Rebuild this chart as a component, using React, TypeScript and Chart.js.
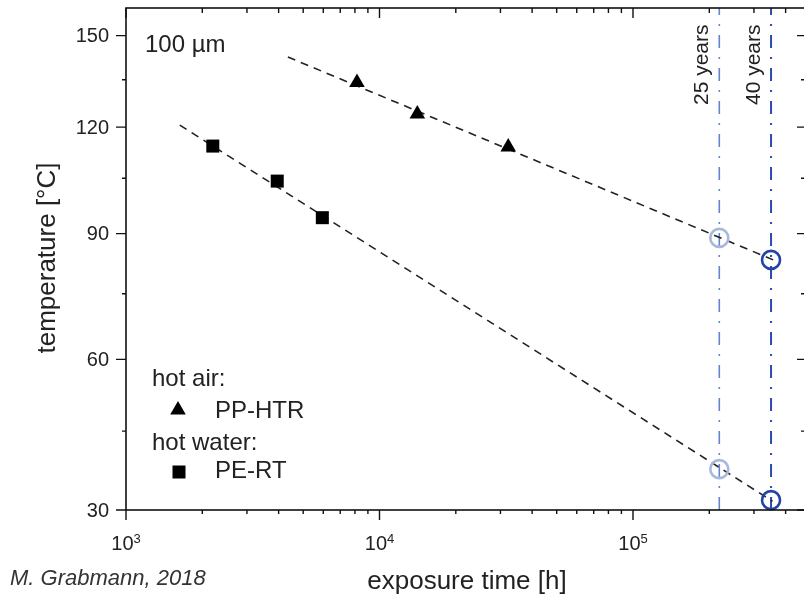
import React, { useEffect, useRef } from "react";
import { Chart, registerables } from "chart.js";

Chart.register(...registerables);

// ---------- data (temperatures in °C, exposure time in hours) ----------
const ppHtrHours = [8150, 14100, 32200];
const ppHtrTemps = [134.1, 124.0, 114.0];
const peRtHours = [2200, 3950, 5950];
const peRtTemps = [114.3, 104.2, 94.2];

const ppFitHours = [4350, 370000];
const ppFitTemps = [142.6, 82.9];
const peFitHours = [1630, 355000];
const peFitTemps = [120.6, 31.6];

const lifetimeLabels = ["25 years", "40 years"];
const lifetimeHours = [219000, 350400];
const ppLifetimeTemps = [88.9, 83.3];
const peLifetimeTemps = [37.6, 31.8];
const lifetimeLineColors = ["#6683cf", "#2a4bb0"];
const lifetimeCircleColors = ["#a9b8dd", "#2542a8"];

const yTickTemps = [30, 60, 90, 120, 150];
const yMinorTemps = [45, 75, 105, 135];
const xTickExponents = [3, 4, 5];
const tempRange = [30, 160];
const timeRange = [1000, 477000];

const legendGroups = ["hot air:", "hot water:"];
const legendNames = ["PP-HTR", "PE-RT"];
const thicknessLabel = "100 µm";
const xTitle = "exposure time [h]";
const yTitle = "temperature [°C]";
const credit = "M. Grabmann, 2018";

// Arrhenius axis: linear in inverse absolute temperature
const toY = (t: number) => -1000 / (t + 273.15);

const FONT = "'Liberation Sans', Arial, Helvetica, sans-serif";
const INK = "#222";

const decorPlugin = {
  id: "decor",
  afterDraw(chart: any) {
    const { ctx, chartArea: a, scales } = chart;
    const xs = scales.x;
    const ys = scales.y;
    ctx.save();

    // frame
    ctx.strokeStyle = "#111";
    ctx.lineWidth = 1.6;
    ctx.strokeRect(a.left, a.top, a.right - a.left, a.bottom - a.top);

    // y ticks
    ctx.lineWidth = 1.4;
    ctx.beginPath();
    yTickTemps.forEach((t) => {
      const py = ys.getPixelForValue(toY(t));
      ctx.moveTo(a.left - 10, py);
      ctx.lineTo(a.left, py);
      ctx.moveTo(a.right - 8, py);
      ctx.lineTo(a.right, py);
    });
    yMinorTemps.forEach((t) => {
      const py = ys.getPixelForValue(toY(t));
      ctx.moveTo(a.left - 4, py);
      ctx.lineTo(a.left, py);
      ctx.moveTo(a.right - 4, py);
      ctx.lineTo(a.right, py);
    });
    // x ticks
    xTickExponents.forEach((e) => {
      for (let m = 1; m <= 9; m++) {
        const v = m * Math.pow(10, e);
        if (v < timeRange[0] || v > timeRange[1]) continue;
        const px = xs.getPixelForValue(v);
        const major = m === 1;
        ctx.moveTo(px, a.bottom);
        ctx.lineTo(px, a.bottom + (major ? 10 : 4));
        ctx.moveTo(px, a.top);
        ctx.lineTo(px, a.top + (major ? 10 : 5));
      }
    });
    ctx.stroke();

    // y tick labels
    ctx.fillStyle = INK;
    ctx.font = `20px ${FONT}`;
    ctx.textAlign = "right";
    ctx.textBaseline = "middle";
    yTickTemps.forEach((t) => {
      const py = ys.getPixelForValue(toY(t));
      ctx.fillText(String(t), a.left - 17, py + 1);
    });

    // x tick labels 10^n
    ctx.textBaseline = "alphabetic";
    ctx.textAlign = "left";
    xTickExponents.forEach((e) => {
      const px = xs.getPixelForValue(Math.pow(10, e));
      ctx.font = `20px ${FONT}`;
      const w10 = ctx.measureText("10").width;
      ctx.font = `13px ${FONT}`;
      const ws = ctx.measureText(String(e)).width;
      const x0 = px - (w10 + ws) / 2;
      ctx.font = `20px ${FONT}`;
      ctx.fillText("10", x0, a.bottom + 40);
      ctx.font = `13px ${FONT}`;
      ctx.fillText(String(e), x0 + w10, a.bottom + 33);
    });

    // axis titles
    ctx.font = `26px ${FONT}`;
    ctx.textAlign = "center";
    ctx.fillText(xTitle, 467, 589);
    ctx.save();
    ctx.translate(55, (a.top + a.bottom) / 2 - 1);
    ctx.rotate(-Math.PI / 2);
    ctx.fillText(yTitle, 0, 0);
    ctx.restore();

    // credit
    ctx.textAlign = "left";
    ctx.font = `italic 22px ${FONT}`;
    ctx.fillStyle = "#333";
    ctx.fillText(credit, 10, 585);

    // thickness label
    ctx.fillStyle = INK;
    ctx.font = `24px ${FONT}`;
    ctx.fillText(thicknessLabel, a.left + 19, a.top + 44);

    // lifetime labels
    ctx.font = `21px ${FONT}`;
    lifetimeHours.forEach((h, i) => {
      const px = xs.getPixelForValue(h);
      ctx.save();
      ctx.translate(px - 11, a.top + 97);
      ctx.rotate(-Math.PI / 2);
      ctx.textAlign = "left";
      ctx.fillText(lifetimeLabels[i], 0, 0);
      ctx.restore();
    });

    // legend
    ctx.font = `24px ${FONT}`;
    ctx.textAlign = "left";
    ctx.fillText(legendGroups[0], 152, 386);
    ctx.fillText(legendNames[0], 215, 418);
    ctx.fillText(legendGroups[1], 152, 450);
    ctx.fillText(legendNames[1], 215, 478);
    // triangle marker
    const r = 9;
    const tx = 178, ty = 410;
    ctx.beginPath();
    ctx.moveTo(tx, ty - r);
    ctx.lineTo(tx + r * Math.sin((2 * Math.PI) / 3), ty + r / 2);
    ctx.lineTo(tx - r * Math.sin((2 * Math.PI) / 3), ty + r / 2);
    ctx.closePath();
    ctx.fillStyle = "#000";
    ctx.fill();
    // square marker
    ctx.fillRect(179 - 6.5, 472 - 6.5, 13, 13);

    ctx.restore();
  },
};

export default function App() {
  const ref = useRef<HTMLCanvasElement | null>(null);

  useEffect(() => {
    if (!ref.current) return;
    const pts = (xsArr: number[], tsArr: number[]) =>
      xsArr.map((x, i) => ({ x, y: toY(tsArr[i]) }));

    const verticals = lifetimeHours.map((h, i) => ({
      type: "scatter" as const,
      data: [
        { x: h, y: toY(tempRange[0]) },
        { x: h, y: toY(tempRange[1]) },
      ],
      showLine: true,
      borderColor: lifetimeLineColors[i],
      borderWidth: i === 0 ? 1.6 : 2,
      borderDash: [13, 9, 2, 9],
      pointRadius: 0,
      order: 4,
    }));

    const circles = lifetimeHours.map((h, i) => ({
      type: "scatter" as const,
      data: [
        { x: h, y: toY(ppLifetimeTemps[i]) },
        { x: h, y: toY(peLifetimeTemps[i]) },
      ],
      showLine: false,
      pointStyle: "circle",
      pointRadius: 9,
      pointBorderWidth: 2.6,
      pointBorderColor: lifetimeCircleColors[i],
      pointBackgroundColor: "rgba(0,0,0,0)",
      clip: false,
      order: 1,
    }));

    const chart = new Chart(ref.current, {
      type: "scatter",
      data: {
        datasets: [
          {
            label: legendNames[0],
            data: pts(ppHtrHours, ppHtrTemps),
            pointStyle: "triangle",
            pointRadius: 9,
            pointBorderWidth: 0,
            pointBackgroundColor: "#000",
            order: 0,
          },
          {
            label: legendNames[1],
            data: pts(peRtHours, peRtTemps),
            pointStyle: "rect",
            pointRadius: 9.2,
            pointBorderWidth: 0,
            pointBackgroundColor: "#000",
            order: 0,
          },
          {
            data: pts(ppFitHours, ppFitTemps),
            showLine: true,
            borderColor: "#222",
            borderWidth: 1.6,
            borderDash: [8, 6],
            pointRadius: 0,
            order: 2,
          },
          {
            data: pts(peFitHours, peFitTemps),
            showLine: true,
            borderColor: "#222",
            borderWidth: 1.6,
            borderDash: [8, 6],
            pointRadius: 0,
            order: 2,
          },
          ...circles,
          ...verticals,
        ] as any,
      },
      options: {
        animation: false,
        responsive: false,
        devicePixelRatio: 1,
        layout: { autoPadding: false, padding: { top: 8, right: 7, left: 0, bottom: 0 } },
        plugins: { legend: { display: false }, tooltip: { enabled: false } },
        scales: {
          x: {
            type: "logarithmic",
            min: timeRange[0],
            max: timeRange[1],
            bounds: "data",
            ticks: { display: false },
            grid: { display: false },
            border: { display: false },
            afterFit: (s: any) => {
              s.height = 86;
            },
          },
          y: {
            type: "linear",
            min: toY(tempRange[0]),
            max: toY(tempRange[1]),
            ticks: { display: false },
            grid: { display: false },
            border: { display: false },
            afterFit: (s: any) => {
              s.width = 126;
            },
          },
        },
      } as any,
      plugins: [decorPlugin],
    });
    return () => chart.destroy();
  }, []);

  return (
    <div
      style={{
        position: "fixed",
        left: 0,
        top: 0,
        width: 804,
        height: 596,
        overflow: "hidden",
        background: "#fff",
      }}
    >
      <canvas
        ref={ref}
        width={812}
        height={596}
        style={{ width: 812, height: 596, display: "block" }}
      />
    </div>
  );
}
